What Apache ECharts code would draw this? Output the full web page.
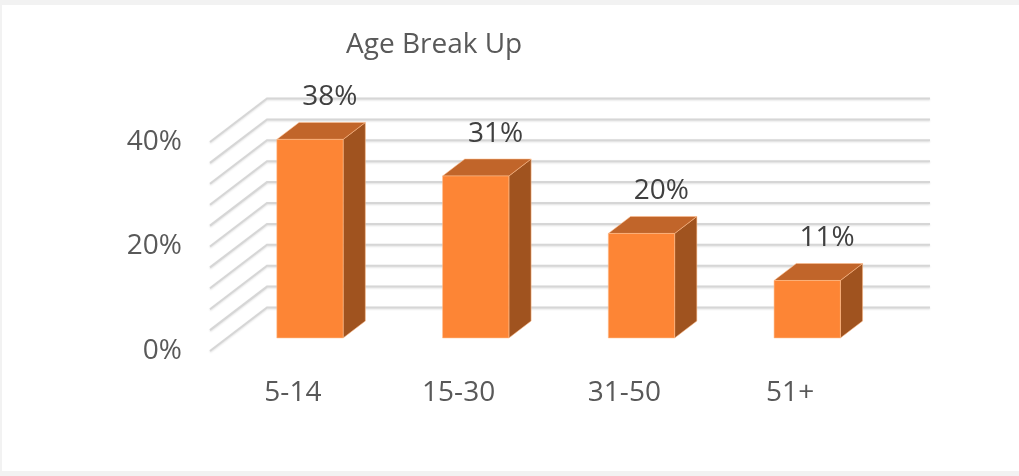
<!DOCTYPE html>
<html>
<head>
<meta charset="utf-8">
<title>Age Break Up</title>
<script src="https://cdn.jsdelivr.net/npm/echarts@6/dist/echarts.min.js"></script>
<style>
  html, body { margin: 0; padding: 0; background: #f2f2f2; }
  #chart { width: 1019px; height: 476px; }
</style>
</head>
<body>
<div id="chart"></div>
<script>
// chart data
var categories = ['5-14', '15-30', '31-50', '51+'];
var shares = [0.38, 0.31, 0.20, 0.11];
// gridline levels drawn on the back and side walls
var gridLevels = [0, 0.04, 0.08, 0.12, 0.16, 0.2, 0.24, 0.28, 0.32, 0.36, 0.4];

// fake 3d: offset from the front plane to the back wall
var DEPTH_X = 57;
var DEPTH_Y = -43.5;
var BAR_FRONT = 0.3;   // where the bar's front face sits (fraction of depth)
var BAR_DEPTH = 0.39;  // bar thickness (fraction of depth)
var FONT = '"Open Sans", "DejaVu Sans", sans-serif';

var chart = echarts.init(document.getElementById('chart'));

function renderWall(params, api) {
    var cs = params.coordSys;
    var y = api.coord([0, api.value(1)])[1];
    var left = cs.x, right = cs.x + cs.width;
    return {
        type: 'polyline',
        shape: {
            points: [
                [left, y],
                [left + DEPTH_X, y + DEPTH_Y],
                [right + DEPTH_X, y + DEPTH_Y]
            ]
        },
        style: {
            fill: null,
            stroke: '#d6d6d6',
            lineWidth: 2,
            shadowBlur: 2,
            shadowOffsetY: 1,
            shadowColor: 'rgba(0,0,0,0.12)'
        }
    };
}

function renderBar(params, api) {
    var idx = api.value(0);
    var val = api.value(1);
    var top = api.coord([idx, val]);
    var base = api.coord([idx, 0]);
    var w = api.size([1, 0])[0] * 0.4;
    var ox = DEPTH_X * BAR_FRONT, oy = DEPTH_Y * BAR_FRONT;
    var bx = DEPTH_X * BAR_DEPTH, by = DEPTH_Y * BAR_DEPTH;
    var x0 = top[0] + ox - w / 2, x1 = x0 + w;
    var yT = top[1] + oy, yB = base[1] + oy;
    var edge = 'rgba(255,190,140,0.55)';
    return {
        type: 'group',
        children: [
            {
                type: 'polygon',
                shape: { points: [[x1, yT], [x1 + bx, yT + by], [x1 + bx, yB + by], [x1, yB]] },
                style: { fill: '#a0531f', stroke: edge, lineWidth: 1 }
            },
            {
                type: 'polygon',
                shape: { points: [[x0, yT], [x1, yT], [x1 + bx, yT + by], [x0 + bx, yT + by]] },
                style: { fill: '#c1652a', stroke: edge, lineWidth: 1 }
            },
            {
                type: 'rect',
                shape: { x: x0, y: yT, width: w, height: yB - yT },
                style: { fill: '#fd8535', stroke: edge, lineWidth: 1 }
            },
            {
                type: 'text',
                style: {
                    text: Math.round(val * 100) + '%',
                    x: top[0] + 37,
                    y: top[1] - 55,
                    align: 'center',
                    verticalAlign: 'middle',
                    fontSize: 28,
                    fontFamily: FONT,
                    fill: '#404040'
                }
            }
        ]
    };
}

var option = {
    backgroundColor: '#f2f2f2',
    animation: false,
    graphic: [{
        type: 'rect',
        z: -10,
        shape: { x: 2, y: 5, width: 1030, height: 466 },
        style: { fill: '#ffffff' }
    }],
    title: {
        text: 'Age Break Up',
        left: 346,
        top: 31,
        padding: 0,
        textStyle: { fontSize: 28, fontWeight: 'normal', color: '#595959', fontFamily: FONT }
    },
    grid: { left: 210, right: 146, top: 142, bottom: 125 },
    xAxis: {
        type: 'category',
        data: categories,
        axisLine: { show: false },
        axisTick: { show: false },
        axisLabel: { margin: 28, fontSize: 28, color: '#595959', fontFamily: FONT }
    },
    yAxis: {
        type: 'value',
        min: 0,
        max: 0.4,
        interval: 0.04,
        splitLine: { show: false },
        axisLine: { show: false },
        axisTick: { show: false },
        axisLabel: {
            margin: 28,
            padding: [4, 0, 0, 0],
            fontSize: 28,
            color: '#595959',
            fontFamily: FONT,
            formatter: function (v) {
                var p = Math.round(v * 100);
                return p % 20 === 0 ? p + '%' : '';
            }
        }
    },
    series: [
        {
            name: 'walls',
            type: 'custom',
            clip: false,
            z: 1,
            renderItem: renderWall,
            data: gridLevels.map(function (v) { return [0, v]; })
        },
        {
            name: 'Age Break Up',
            type: 'custom',
            clip: false,
            z: 2,
            renderItem: renderBar,
            data: shares.map(function (v, i) { return [i, v]; })
        }
    ]
};
chart.setOption(option);
</script>
</body>
</html>
